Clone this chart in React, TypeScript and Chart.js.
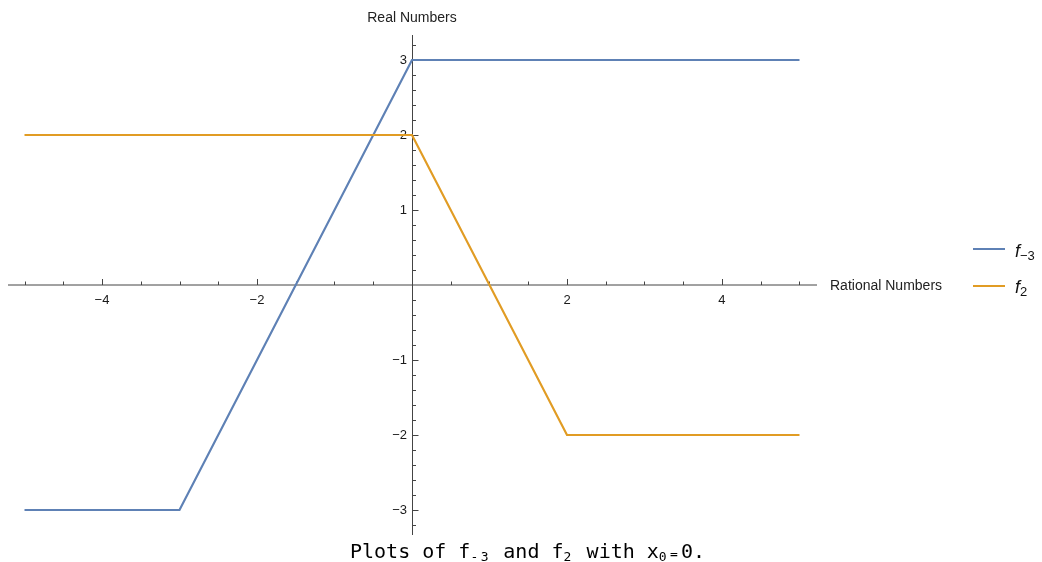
import React, { useEffect, useRef } from "react";
import { Chart, registerables } from "chart.js";

Chart.register(...registerables);

// ---- data ----
const SERIES_NAMES = ["f_{-3}", "f_2"];
const F_NEG3_X = [-5, -3, 0, 5];
const F_NEG3_Y = [-3, -3, 3, 3];
const F_2_X = [-5, 0, 2, 5];
const F_2_Y = [2, 2, -2, -2];
const X_TICK_LABELS = [-4, -2, 2, 4];
const Y_TICK_LABELS = [-3, -2, -1, 1, 2, 3];
const X_MINOR_STEP = 0.5;
const Y_MINOR_STEP = 0.2;
const X_RANGE = [-5.213, 5.226];
const Y_RANGE = [-3.333, 3.333];
const X_TITLE = "Rational Numbers";
const Y_TITLE = "Real Numbers";

const BLUE = "#5E81B5";
const ORANGE = "#E19C24";
const AXIS = "#444";
const SANS = "'Liberation Sans', Arial, sans-serif";
// pixels per x unit = 809 / (X_RANGE[1]-X_RANGE[0]); y labels sit 5px left of the axis
const Y_LABEL_GAP_UNITS = 5 / (809 / (X_RANGE[1] - X_RANGE[0]));

const fmt = (v: number) => (v < 0 ? "\u2212" + Math.abs(v) : String(v));

const axesPlugin = {
  id: "mmaAxes",
  beforeDatasetsDraw(chart: any) {
    const { ctx, chartArea } = chart;
    const xs = chart.scales.x;
    const ys = chart.scales.y;
    const y0 = ys.getPixelForValue(0);
    const x0 = Math.round(xs.getPixelForValue(0)) + 0.5;
    ctx.save();
    ctx.strokeStyle = AXIS;
    ctx.lineWidth = 1;
    ctx.beginPath();
    ctx.moveTo(chartArea.left, y0);
    ctx.lineTo(chartArea.right, y0);
    ctx.moveTo(x0, chartArea.top);
    ctx.lineTo(x0, chartArea.bottom);
    ctx.stroke();
    // x ticks (upward)
    ctx.beginPath();
    const kx0 = Math.ceil(xs.min / X_MINOR_STEP);
    const kx1 = Math.floor(xs.max / X_MINOR_STEP);
    for (let k = kx0; k <= kx1; k++) {
      const v = k * X_MINOR_STEP;
      if (Math.abs(v) < 1e-9) continue;
      const major = X_TICK_LABELS.some((t) => Math.abs(t - v) < 1e-9);
      const px = Math.round(xs.getPixelForValue(v)) + 0.5;
      const len = major ? 6 : 3.5;
      ctx.moveTo(px, y0);
      ctx.lineTo(px, y0 - len);
    }
    // y ticks (rightward)
    const ky0 = Math.ceil(ys.min / Y_MINOR_STEP - 1e-9);
    const ky1 = Math.floor(ys.max / Y_MINOR_STEP + 1e-9);
    for (let k = ky0; k <= ky1; k++) {
      const v = k * Y_MINOR_STEP;
      if (Math.abs(v) < 1e-9) continue;
      const major = Y_TICK_LABELS.some((t) => Math.abs(t - v) < 1e-9);
      const py = Math.round(ys.getPixelForValue(v)) + 0.5;
      const len = major ? 6 : 3.5;
      ctx.moveTo(x0, py);
      ctx.lineTo(x0 + len, py);
    }
    ctx.stroke();
    ctx.restore();
  },
};

function Sub({ children, size = 13, top = 3, spacing = 0 }: any) {
  return (
    <span
      style={{
        fontSize: size,
        position: "relative",
        top,
        letterSpacing: spacing,
        lineHeight: 0,
      }}
    >
      {children}
    </span>
  );
}

export default function App() {
  const ref = useRef<HTMLCanvasElement | null>(null);

  useEffect(() => {
    if (!ref.current) return;
    const chart = new Chart(ref.current, {
      type: "line",
      data: {
        datasets: [
          {
            label: SERIES_NAMES[0],
            data: F_NEG3_X.map((x, i) => ({ x, y: F_NEG3_Y[i] })),
            borderColor: BLUE,
            borderWidth: 2.2,
            pointRadius: 0,
            tension: 0,
            fill: false,
            order: 1,
          },
          {
            label: SERIES_NAMES[1],
            data: F_2_X.map((x, i) => ({ x, y: F_2_Y[i] })),
            borderColor: ORANGE,
            borderWidth: 2.2,
            pointRadius: 0,
            tension: 0,
            fill: false,
            order: 0,
          },
        ],
      },
      options: {
        responsive: false,
        animation: false,
        events: [],
        layout: { padding: { left: 8, right: 225, top: 35, bottom: 27 } },
        plugins: { legend: { display: false }, tooltip: { enabled: false } },
        scales: {
          x: {
            type: "linear",
            min: X_RANGE[0],
            max: X_RANGE[1],
            position: { y: 0 } as any,
            grid: { display: false, drawTicks: false },
            border: { display: false },
            afterBuildTicks: (s: any) => {
              s.ticks = X_TICK_LABELS.map((v) => ({ value: v }));
            },
            ticks: {
              autoSkip: false,
              maxRotation: 0,
              padding: 8,
              color: "#1a1a1a",
              font: { family: SANS, size: 13 },
              callback: (v: any) => fmt(Number(v)),
            },
          },
          y: {
            type: "linear",
            min: Y_RANGE[0],
            max: Y_RANGE[1],
            position: { x: -Y_LABEL_GAP_UNITS } as any,
            grid: { display: false, drawTicks: false },
            border: { display: false },
            afterBuildTicks: (s: any) => {
              s.ticks = Y_TICK_LABELS.map((v) => ({ value: v }));
            },
            ticks: {
              autoSkip: false,
              padding: 0,
              color: "#1a1a1a",
              font: { family: SANS, size: 13 },
              callback: (v: any) => fmt(Number(v)),
            },
          },
        },
      },
      plugins: [axesPlugin],
    });
    return () => chart.destroy();
  }, []);

  const legendItem = (color: string, sub: string, lineY: number, textTop: number) => (
    <>
      <div
        style={{
          position: "absolute",
          left: 973,
          top: lineY - 1,
          width: 32,
          height: 2,
          background: color,
        }}
      />
      <div
        style={{
          position: "absolute",
          left: 1015,
          top: textTop,
          fontFamily: SANS,
          fontSize: 18,
          lineHeight: "18px",
          fontStyle: "italic",
          color: "#111",
          whiteSpace: "nowrap",
        }}
      >
        f
        <span style={{ fontStyle: "normal" }}>
          <Sub size={13} top={3}>
            {sub}
          </Sub>
        </span>
      </div>
    </>
  );

  return (
    <div
      style={{
        position: "fixed",
        left: 0,
        top: 0,
        width: 1042,
        height: 562,
        background: "#fff",
        overflow: "hidden",
      }}
    >
      <canvas
        ref={ref}
        width={1042}
        height={562}
        style={{ position: "absolute", left: 0, top: 0, width: 1042, height: 562 }}
      />
      <div
        style={{
          position: "absolute",
          left: 312,
          width: 200,
          top: 10,
          textAlign: "center",
          fontFamily: SANS,
          fontSize: 14,
          lineHeight: "14px",
          color: "#222",
        }}
      >
        {Y_TITLE}
      </div>
      <div
        style={{
          position: "absolute",
          left: 830,
          top: 278,
          fontFamily: SANS,
          fontSize: 14,
          lineHeight: "14px",
          color: "#222",
          whiteSpace: "nowrap",
        }}
      >
        {X_TITLE}
      </div>
      {legendItem(BLUE, "\u22123", 249, 242)}
      {legendItem(ORANGE, "2", 286, 278)}
      <div
        style={{
          position: "absolute",
          left: 350,
          top: 541,
          fontFamily: "'DejaVu Sans Mono', monospace",
          fontSize: 20,
          lineHeight: "20px",
          color: "#000",
          whiteSpace: "pre",
        }}
      >
        Plots of f<Sub size={13} top={3} spacing={2.6}>-3</Sub> and f
        <Sub size={13} top={3} spacing={3.2}>2</Sub> with x
        <Sub size={13} top={3} spacing={3.2}>0</Sub>
        <Sub size={13} top={0} spacing={3.2}>=</Sub>0.
      </div>
    </div>
  );
}
